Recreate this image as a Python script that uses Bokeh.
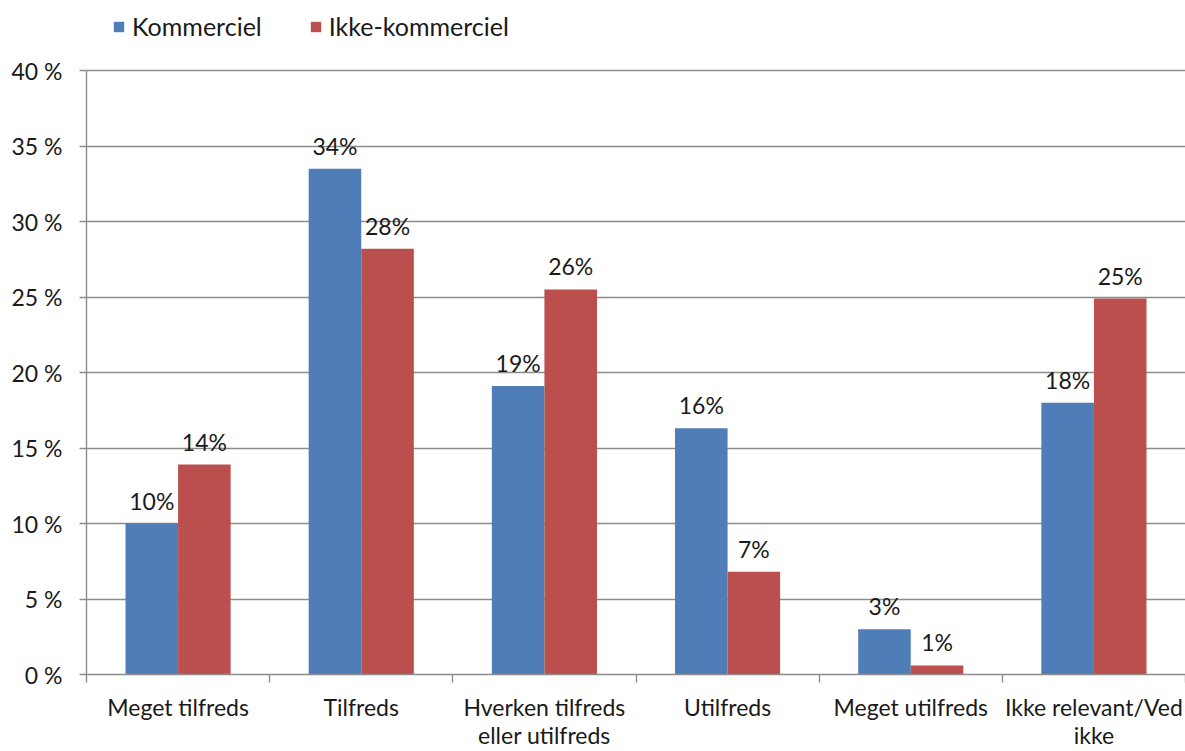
import numpy as np
from bokeh.plotting import figure
from bokeh.models import FixedTicker, Legend, LegendItem, Range1d
from bokeh.core.properties import value
from bokeh.embed import file_html
from bokeh.resources import INLINE

# ---- data ----
categories = [
    "Meget tilfreds",
    "Tilfreds",
    "Hverken tilfreds\neller utilfreds",
    "Utilfreds",
    "Meget utilfreds",
    "Ikke relevant/Ved\nikke",
]
series_names = ["Kommerciel", "Ikke-kommerciel"]
kommerciel = [10.0, 33.5, 19.1, 16.3, 3.0, 18.0]
ikke_kommerciel = [13.9, 28.2, 25.5, 6.8, 0.6, 24.9]
y_ticks = [0, 5, 10, 15, 20, 25, 30, 35, 40]
y_tick_labels = ["0 %", "5 %", "10 %", "15 %", "20 %", "25 %", "30 %", "35 %", "40 %"]

# ---- style ----
FONT = "Lato"
FS = "23px"
LEG_FS = "25px"
BLUE = "#4F7DB7"
RED = "#BA4F4D"
GRID = "#8C8C8C"
TXT = "#1a1a1a"

W, H = 1185, 751
BL, BB = 86, 77
FRAME_H = H - BB          # frame spans from the top of the figure
TOP_GAP = 70              # px between figure top and the 40 % line
Y_MAX = max(y_ticks)
y_end = Y_MAX * FRAME_H / (FRAME_H - TOP_GAP)

n = len(categories)
centers = np.arange(n) + 0.5
bw = 0.287

p = figure(
    width=W, height=H,
    x_range=Range1d(0, n), y_range=Range1d(0, y_end),
    output_backend="svg", toolbar_location=None,
    min_border_left=BL, min_border_right=0, min_border_top=0, min_border_bottom=BB,
)
p.outline_line_color = None
p.background_fill_color = "white"
p.xgrid.grid_line_color = None
p.ygrid.grid_line_color = GRID
p.ygrid.grid_line_width = 1.4
p.ygrid.ticker = FixedTicker(ticks=y_ticks)

# y axis
p.yaxis.ticker = FixedTicker(ticks=y_ticks)
p.yaxis.bounds = (0, Y_MAX)
p.yaxis.major_label_overrides = {t: l for t, l in zip(y_ticks, y_tick_labels)}
p.yaxis.axis_line_color = GRID
p.yaxis.axis_line_width = 1.4
p.yaxis.major_tick_line_color = GRID
p.yaxis.major_tick_line_width = 1.4
p.yaxis.major_tick_in = 0
p.yaxis.major_tick_out = 7
p.yaxis.minor_tick_line_color = None
p.yaxis.major_label_standoff = 17
p.yaxis.major_label_text_font = FONT
p.yaxis.major_label_text_font_size = FS
p.yaxis.major_label_text_color = TXT

# x axis
p.xaxis.ticker = FixedTicker(ticks=list(centers), minor_ticks=list(range(n + 1)))
p.xaxis.major_label_overrides = {float(c): cat for c, cat in zip(centers, categories)}
p.xaxis.axis_line_color = GRID
p.xaxis.axis_line_width = 1.4
p.xaxis.major_tick_line_color = None
p.xaxis.major_tick_in = 0
p.xaxis.major_tick_out = 0
p.xaxis.minor_tick_line_color = GRID
p.xaxis.minor_tick_line_width = 1.4
p.xaxis.minor_tick_in = 0
p.xaxis.minor_tick_out = 8
p.xaxis.major_label_standoff = 10
p.xaxis.major_label_text_font = FONT
p.xaxis.major_label_text_font_size = FS
p.xaxis.major_label_text_color = TXT
p.xaxis.major_label_text_line_height = 1.0

# bars
xk = centers - bw / 2
xi = centers + bw / 2
rk = p.vbar(x=xk, top=kommerciel, width=bw, fill_color=BLUE, line_color=None)
ri = p.vbar(x=xi, top=ikke_kommerciel, width=bw, fill_color=RED, line_color=None)

# value labels
for xs, vals in ((xk, kommerciel), (xi, ikke_kommerciel)):
    p.text(
        x=xs, y=vals, text=[f"{round(v)}%" for v in vals],
        text_align="center", text_baseline="alphabetic", y_offset=-23,
        text_font=value(FONT), text_font_size=FS, text_color=TXT,
    )

# legend near the top of the (extended) frame
legend = Legend(
    items=[LegendItem(label=series_names[0], renderers=[rk]),
           LegendItem(label=series_names[1], renderers=[ri])],
    orientation="horizontal", location=(26, FRAME_H - 41),
    glyph_width=13, glyph_height=13, label_standoff=7, spacing=47,
    padding=0, margin=0, border_line_alpha=0, background_fill_alpha=0,
    label_text_font=FONT, label_text_font_size=LEG_FS, label_text_color=TXT,
    label_height=26,
)
p.add_layout(legend)

open("out.html", "w").write(file_html(p, INLINE))
